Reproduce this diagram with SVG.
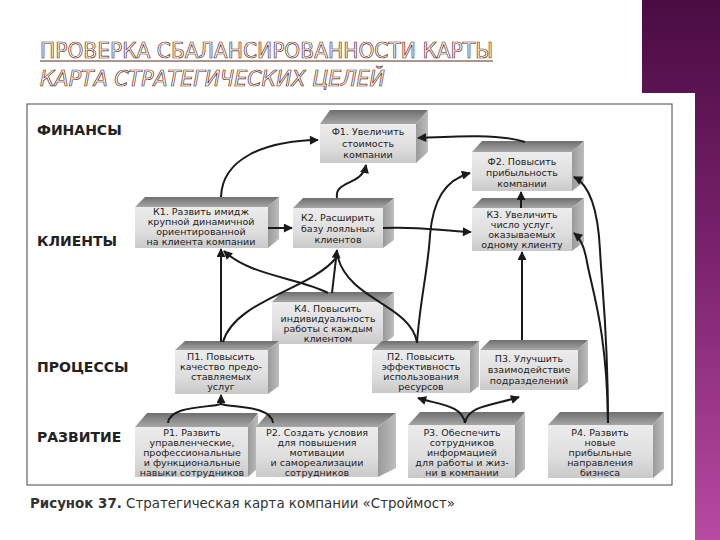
<svg xmlns="http://www.w3.org/2000/svg" width="720" height="540" viewBox="0 0 720 540">
<defs>
<linearGradient id="gPurple" x1="0" y1="0" x2="0" y2="1">
<stop offset="0" stop-color="#4a0c43"/>
<stop offset="0.5" stop-color="#7e2470"/>
<stop offset="1" stop-color="#b84aa2"/>
</linearGradient>
<linearGradient id="gFront" x1="0" y1="0" x2="0" y2="1">
<stop offset="0" stop-color="#ececec"/>
<stop offset="0.6" stop-color="#dedede"/>
<stop offset="1" stop-color="#c9c9c9"/>
</linearGradient>
<linearGradient id="gTop" x1="0" y1="0" x2="0" y2="1">
<stop offset="0" stop-color="#6f6f6f"/>
<stop offset="1" stop-color="#a6a6a6"/>
</linearGradient>
<linearGradient id="gSide" x1="0" y1="0" x2="1" y2="0">
<stop offset="0" stop-color="#9a9a9a"/>
<stop offset="1" stop-color="#bdbdbd"/>
</linearGradient>
<marker id="arr" viewBox="0 0 10 10" refX="9" refY="5" markerWidth="10" markerHeight="9" markerUnits="userSpaceOnUse" orient="auto">
<path d="M0,0 L10,5 L0,10 Z" fill="#1a1a1a"/>
</marker>
</defs>
<style>
.title{font-family:"DejaVu Sans","Liberation Sans",sans-serif;font-size:21px;fill:#fffaf6;stroke:#5c2a1c;stroke-width:0.7px;}
.lbl{font-family:"DejaVu Sans","Liberation Sans",sans-serif;font-size:14px;font-weight:bold;fill:#222;}
.cap{font-family:"DejaVu Sans","Liberation Sans",sans-serif;font-size:13.4px;fill:#333;}
.nt{font-family:"DejaVu Sans","Liberation Sans",sans-serif;font-size:9.5px;fill:#222;text-anchor:middle;}
.top{fill:url(#gTop);}
.side{fill:url(#gSide);}
.front{fill:url(#gFront);}
.con{fill:none;stroke:#1a1a1a;stroke-width:2;}
.arr{marker-end:url(#arr);}
</style>
<rect width="720" height="540" fill="#ffffff"/>
<path d="M642 0 H720 V540 H695 V93 H642 Z" fill="url(#gPurple)"/>

<g id="title">
<text class="title" x="40" y="58" textLength="453" lengthAdjust="spacingAndGlyphs">ПРОВЕРКА СБАЛАНСИРОВАННОСТИ КАРТЫ</text>
<line x1="40" y1="61" x2="493" y2="61" stroke="#5c2a1c" stroke-width="1.2"/>
<text class="title" x="40" y="86" font-style="italic" textLength="345" lengthAdjust="spacingAndGlyphs">КАРТА СТРАТЕГИЧЕСКИХ ЦЕЛЕЙ</text>
</g>

<rect id="frame" x="27" y="104" width="645" height="381" fill="none" stroke="#444" stroke-width="1"/>

<g id="labels">
<text class="lbl" x="37" y="135">ФИНАНСЫ</text>
<text class="lbl" x="37" y="246">КЛИЕНТЫ</text>
<text class="lbl" x="37" y="372">ПРОЦЕССЫ</text>
<text class="lbl" x="37" y="442">РАЗВИТИЕ</text>
</g>

<g id="F1">
<polygon class="top" points="320,124 330,110 428,110 416,124"/>
<polygon class="side" points="416,124 428,110 428,152 416,163"/>
<rect class="front" x="320" y="124" width="96" height="39"/>
<text class="nt"><tspan x="368" y="135">Ф1. Увеличить</tspan><tspan x="368" y="147">стоимость</tspan><tspan x="368" y="158">компании</tspan></text>
</g>

<g id="F2">
<polygon class="top" points="472,152 482,141 584,141 572,152"/>
<polygon class="side" points="572,152 584,141 584,182 572,191"/>
<rect class="front" x="472" y="152" width="100" height="39"/>
<text class="nt"><tspan x="522" y="165">Ф2. Повысить</tspan><tspan x="522" y="176">прибыльность</tspan><tspan x="522" y="187">компании</tspan></text>
</g>

<g id="K3">
<polygon class="top" points="472,208 482,198 584,198 572,208"/>
<polygon class="side" points="572,208 584,198 584,242 572,251"/>
<rect class="front" x="472" y="208" width="100" height="43"/>
<text class="nt"><tspan x="522" y="218">К3. Увеличить</tspan><tspan x="522" y="228">число услуг,</tspan><tspan x="522" y="238">оказываемых</tspan><tspan x="522" y="248">одному клиенту</tspan></text>
</g>

<g id="K1">
<polygon class="top" points="135,207 145,197 279,197 268,207"/>
<polygon class="side" points="268,207 279,197 279,239 268,248"/>
<rect class="front" x="135" y="207" width="133" height="41"/>
<text class="nt" font-size="10.5"><tspan x="201" y="215">К1. Развить имидж</tspan><tspan x="201" y="225">крупной динамичной</tspan><tspan x="201" y="235">ориентированной</tspan><tspan x="201" y="245">на клиента компании</tspan></text>
</g>

<g id="K2">
<polygon class="top" points="293,208 303,198 394,198 383,208"/>
<polygon class="side" points="383,208 394,198 394,240 383,248"/>
<rect class="front" x="293" y="208" width="90" height="40"/>
<text class="nt" font-size="10"><tspan x="338" y="221">К2. Расширить</tspan><tspan x="338" y="232">базу лояльных</tspan><tspan x="338" y="243">клиентов</tspan></text>
</g>

<g id="K4">
<polygon class="top" points="272,302 282,292 394,292 383,302"/>
<polygon class="side" points="383,302 394,292 394,336 383,344"/>
<rect class="front" x="272" y="302" width="111" height="42"/>
<text class="nt" font-size="10"><tspan x="328" y="312">К4. Повысить</tspan><tspan x="328" y="322">индивидуальность</tspan><tspan x="328" y="332">работы с каждым</tspan><tspan x="328" y="342">клиентом</tspan></text>
</g>

<g id="P1">
<polygon class="top" points="175,350 185,341 279,341 268,350"/>
<polygon class="side" points="268,350 279,341 279,386 268,394"/>
<rect class="front" x="175" y="350" width="93" height="44"/>
<text class="nt" font-size="10"><tspan x="221" y="360">П1. Повысить</tspan><tspan x="221" y="370">качество предо-</tspan><tspan x="221" y="380">ставляемых</tspan><tspan x="221" y="390">услуг</tspan></text>
</g>

<g id="P2">
<polygon class="top" points="372,350 382,341 479,341 470,350"/>
<polygon class="side" points="470,350 479,341 479,386 470,393"/>
<rect class="front" x="372" y="350" width="98" height="43"/>
<text class="nt" font-size="10"><tspan x="421" y="360">П2. Повысить</tspan><tspan x="421" y="370">эффективность</tspan><tspan x="421" y="380">использования</tspan><tspan x="421" y="390">ресурсов</tspan></text>
</g>

<g id="P3">
<polygon class="top" points="480,350 490,340 588,340 578,350"/>
<polygon class="side" points="578,350 588,340 588,382 578,390"/>
<rect class="front" x="480" y="350" width="98" height="40"/>
<text class="nt" font-size="10"><tspan x="529" y="362">П3. Улучшить</tspan><tspan x="529" y="373">взаимодействие</tspan><tspan x="529" y="384">подразделений</tspan></text>
</g>

<g id="R1">
<polygon class="top" points="135,427 147,413 258,413 248,427"/>
<polygon class="side" points="248,427 258,413 258,468 248,477"/>
<rect class="front" x="135" y="427" width="113" height="50"/>
<text class="nt"><tspan x="192" y="436">Р1. Развить</tspan><tspan x="192" y="446">управленческие,</tspan><tspan x="192" y="456">профессиональные</tspan><tspan x="192" y="466">и функциональные</tspan><tspan x="192" y="476">навыки сотрудников</tspan></text>
</g>

<g id="R2">
<polygon class="top" points="256,427 268,413 396,413 378,427"/>
<polygon class="side" points="378,427 396,413 396,468 378,477"/>
<rect class="front" x="256" y="427" width="122" height="50"/>
<text class="nt"><tspan x="317" y="436">Р2. Создать условия</tspan><tspan x="317" y="446">для повышения</tspan><tspan x="317" y="456">мотивации</tspan><tspan x="317" y="466">и самореализации</tspan><tspan x="317" y="476">сотрудников</tspan></text>
</g>

<g id="R3">
<polygon class="top" points="408,425 420,412 525,412 515,425"/>
<polygon class="side" points="515,425 525,412 525,469 515,478"/>
<rect class="front" x="408" y="425" width="107" height="53"/>
<text class="nt"><tspan x="462" y="436">Р3. Обеспечить</tspan><tspan x="462" y="446">сотрудников</tspan><tspan x="462" y="456">информацией</tspan><tspan x="462" y="466">для работы и жиз-</tspan><tspan x="462" y="476">ни в компании</tspan></text>
</g>

<g id="R4">
<polygon class="top" points="548,425 560,412 664,412 653,425"/>
<polygon class="side" points="653,425 664,412 664,469 653,478"/>
<rect class="front" x="548" y="425" width="105" height="53"/>
<text class="nt"><tspan x="600" y="436">Р4. Развить</tspan><tspan x="600" y="446">новые</tspan><tspan x="600" y="456">прибыльные</tspan><tspan x="600" y="466">направления</tspan><tspan x="600" y="476">бизнеса</tspan></text>
</g>

<g id="connectors">
<path class="con arr" d="M221 197 C222 160, 262 141, 318 140"/>
<path class="con arr" d="M337 198 C334 180, 362 186, 366 165"/>
<path class="con arr" d="M525 142 C500 134, 460 136, 418 138"/>
<path class="con arr" d="M268 228 L292 228"/>
<path class="con arr" d="M383 228 C420 226, 440 231, 471 232"/>
<path class="con arr" d="M521 208 L521 192"/>
<path class="con arr" d="M417 343 C420 300, 428 270, 430 235 C433 200, 445 180, 470 173"/>
<path class="con arr" d="M221 342 L221 249"/>
<path class="con arr" d="M328 293 C300 278, 250 276, 224 251"/>
<path class="con arr" d="M332 293 L337 250"/>
<path class="con" d="M223 342 C235 300, 310 290, 336 258"/>
<path class="con" d="M417 342 C410 305, 350 300, 338 258"/>
<path class="con arr" d="M522 340 L522 252"/>
<path class="con arr" d="M608 423 C607 330, 592 290, 587 262 C584 245, 580 238, 574 233"/>
<path class="con arr" d="M608 423 C608 330, 602 290, 600 250 C598 210, 590 185, 574 177"/>
<path class="con" d="M168 423 C170 405, 210 408, 221 404"/>
<path class="con" d="M273 423 C271 405, 232 408, 221 404"/>
<path class="con arr" d="M221 405 L221 395"/>
<path class="con arr" d="M465 423 C462 405, 440 405, 418 398"/>
<path class="con arr" d="M465 423 C468 405, 495 405, 519 397"/>
</g>

<text class="cap" x="30" y="508"><tspan font-weight="bold">Рисунок 37.</tspan> Стратегическая карта компании «Строймост»</text>
</svg>
